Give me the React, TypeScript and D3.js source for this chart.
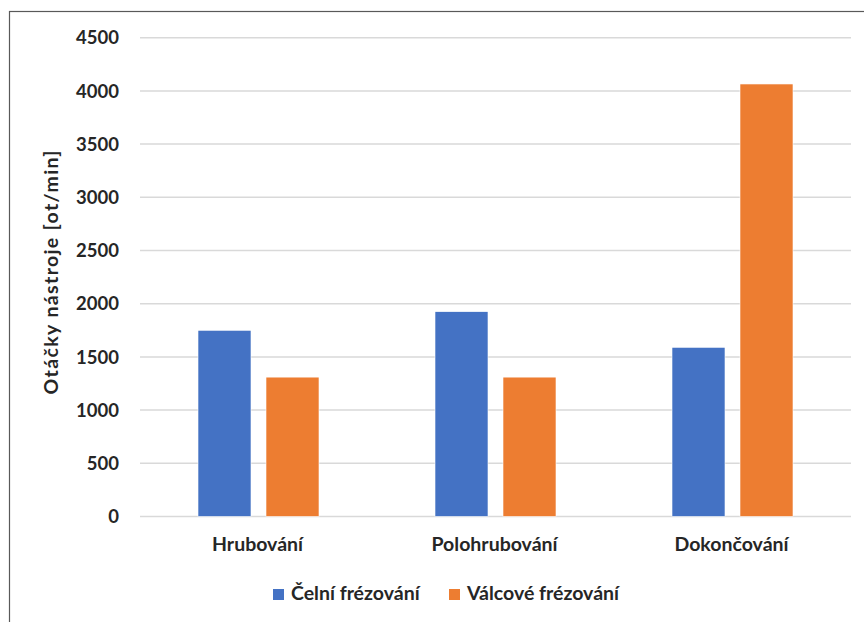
import React, { useRef, useEffect } from 'react';
import * as d3 from 'd3';

const categories = ['Hrubování', 'Polohrubování', 'Dokončování'];
const seriesNames = ['Čelní frézování', 'Válcové frézování'];
const celni = [1750, 1925, 1590];
const valcove = [1310, 1310, 4065];
const yTicks = [0, 500, 1000, 1500, 2000, 2500, 3000, 3500, 4000, 4500];
const colors = ['#4472C4', '#ED7D31'];

const FONT = "Lato, 'Open Sans', sans-serif";
const FS = 19.5;
const TEXT = '#262626';

const App = () => {
  const ref = useRef<SVGSVGElement>(null);

  useEffect(() => {
    const svg = d3.select(ref.current);
    svg.selectAll('*').remove();

    const left = 140;
    const right = 851;
    const top = 37.7;
    const bottom = 516.5;

    const x = d3.scaleBand().domain(categories).range([left, right]);
    const y = d3.scaleLinear().domain([0, 4500]).range([bottom, top]);
    const barW = 53;
    const gap = 15;

    // chart frame
    svg.append('rect')
      .attr('x', 9.5).attr('y', 11.5)
      .attr('width', 880).attr('height', 640)
      .attr('fill', '#fff').attr('stroke', '#595959').attr('stroke-width', 1.2);

    // gridlines
    svg.append('g')
      .selectAll('line')
      .data(yTicks)
      .join('line')
      .attr('x1', left).attr('x2', right)
      .attr('y1', d => y(d)).attr('y2', d => y(d))
      .attr('stroke', '#d9d9d9').attr('stroke-width', 1.5);

    // y tick labels
    svg.append('g')
      .selectAll('text')
      .data(yTicks)
      .join('text')
      .attr('x', 119)
      .attr('y', d => y(d))
      .attr('dy', '0.36em')
      .attr('text-anchor', 'end')
      .attr('font-family', FONT)
      .attr('font-weight', 'bold')
      .attr('font-size', 18.5)
      .attr('fill', TEXT)
      .text(d => d);

    // bars
    const series = [celni, valcove];
    series.forEach((vals, si) => {
      svg.append('g')
        .selectAll('rect')
        .data(vals)
        .join('rect')
        .attr('x', (d, i) => {
          const c = x(categories[i])! + x.bandwidth() / 2;
          return si === 0 ? c - gap / 2 - barW : c + gap / 2;
        })
        .attr('y', d => y(d))
        .attr('width', barW)
        .attr('height', d => y(0) - y(d))
        .attr('fill', colors[si])
        .attr('stroke', '#fff')
        .attr('stroke-width', 0.6);
    });

    // category labels
    svg.append('g')
      .selectAll('text')
      .data(categories)
      .join('text')
      .attr('x', d => x(d)! + x.bandwidth() / 2 - 1)
      .attr('y', 551)
      .attr('text-anchor', 'middle')
      .attr('font-family', FONT)
      .attr('font-weight', 'bold')
      .attr('font-size', FS)
      .attr('fill', TEXT)
      .text(d => d);

    // axis title
    svg.append('text')
      .attr('transform', `translate(58,272.5) rotate(-90)`)
      .attr('text-anchor', 'middle')
      .attr('font-family', FONT)
      .attr('font-weight', 'bold')
      .attr('font-size', FS)
      .attr('textLength', 244)
      .attr('lengthAdjust', 'spacing')
      .attr('fill', TEXT)
      .text('Otáčky nástroje [ot/min]');

    // legend
    const legendX = [273, 449];
    seriesNames.forEach((name, i) => {
      const g = svg.append('g').attr('transform', `translate(${legendX[i]},600)`);
      g.append('rect')
        .attr('x', 0).attr('y', -11)
        .attr('width', 11).attr('height', 11)
        .attr('fill', colors[i]);
      g.append('text')
        .attr('x', 18)
        .attr('y', 0)
        .attr('font-family', FONT)
        .attr('font-weight', 'bold')
        .attr('font-size', FS)
        .attr('fill', TEXT)
        .text(name);
    });
  }, []);

  return (
    <svg
      ref={ref}
      width="864"
      height="622"
      style={{ position: 'absolute', left: 0, top: 0, background: '#fff' }}
    ></svg>
  );
};

export default App;
